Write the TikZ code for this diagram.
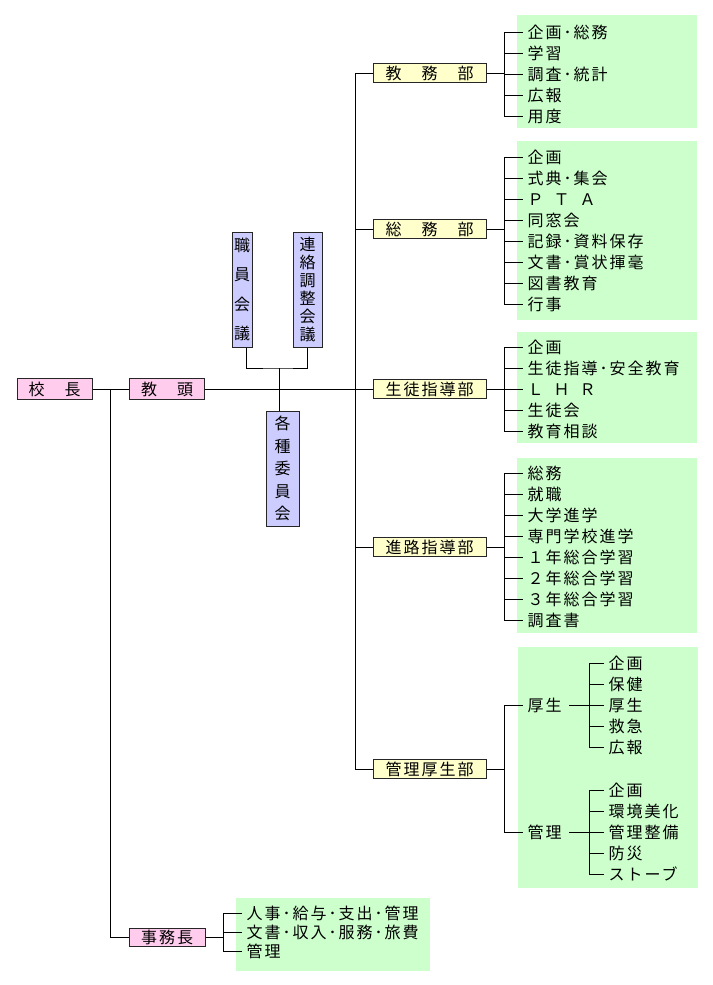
\documentclass[tikz,border=0pt]{standalone}
\usepackage{fontspec}
\newfontfamily\jp{Noto Sans CJK JP}
\newfontfamily\jpls[LetterSpace=12.5]{Noto Sans CJK JP}
\definecolor{pinkbox}{HTML}{FFCCEE}
\definecolor{yelbox}{HTML}{FFFFCC}
\definecolor{lavbox}{HTML}{CCCCFF}
\definecolor{grnbox}{HTML}{CCFFCC}
\begin{document}
\begin{tikzpicture}[x=1pt,y=-1pt,line width=1pt,
  lbl/.style={font=\jpls\fontsize{16pt}{18pt}\selectfont,inner sep=0pt,text height=14.08pt,text depth=1.92pt},
  box/.style={lbl,draw=black!85,minimum height=19pt,align=center},
  head/.style={box,fill=pinkbox,minimum width=75pt,minimum height=21pt},
  dept/.style={box,fill=yelbox,minimum width=113pt},
  item/.style={lbl,anchor=west,inner xsep=4pt},
  vbox/.style={draw=black!85,fill=lavbox,inner sep=0pt,align=center},
  area/.style={fill=grnbox}]
\fill[white] (0,0) rectangle (712,985);
\useasboundingbox (0,0) rectangle (712,985);
% green areas
\fill[area] (517,15) rectangle (697,128);
\fill[area] (517,141) rectangle (697,320);
\fill[area] (517,332) rectangle (697,443);
\fill[area] (517,458) rectangle (697,633);
\fill[area] (518,647) rectangle (698,888);
\fill[area] (236,898) rectangle (430,971);
% coordinates
\coordinate (sp) at (355,0);
\coordinate (bx) at (504,0);
\coordinate (bk) at (589,0);
\coordinate (bj) at (223,0);
\coordinate (kb) at (110,389);
\coordinate (cj) at (279,368);
% head nodes
\node[head] (kocho) at (54.5,389) {校　長};
\node[head] (kyoto) at (167,389) {教　頭};
\node[head,minimum width=76pt,minimum height=18pt] (jimu) at (167,937) {事務長};
% committees
\node[vbox,minimum width=20pt,minimum height=115pt,font=\jp\fontsize{16pt}{29.5pt}\selectfont] (shoku) at (242,289.5) {職\\員\\会\\議};
\node[vbox,minimum width=29pt,minimum height=115pt,font=\jp\fontsize{16pt}{18pt}\selectfont] (renr) at (307.5,289.5) {連\\絡\\調\\整\\会\\議};
\node[vbox,minimum width=33pt,minimum height=115pt,font=\jp\fontsize{16pt}{22.5pt}\selectfont] (kaku) at (282.5,468.5) {各\\種\\委\\員\\会};
% departments
\node[dept] (kyomu) at (429.5,73) {教　務　部};
\node[dept] (somu) at (429.5,229) {総　務　部};
\node[dept] (seito) at (429.5,389) {生徒指導部};
\node[dept] (shinro) at (429.5,547) {進路指導部};
\node[dept] (kanri) at (429.5,769) {管理厚生部};
% items
\foreach \t [count=\i] in {企画･総務,学習,調査･統計,広報,用度}
  \node[item] (a\i) at (523,{32+21*(\i-1)}) {\t};
\foreach \t [count=\i] in {企画,式典･集会,Ｐ\hspace{10pt}Ｔ\hspace{10pt}Ａ,同窓会,記録･資料保存,文書･賞状揮毫,図書教育,行事}
  \node[item] (b\i) at (523,{157+21*(\i-1)}) {\t};
\foreach \t [count=\i] in {企画,生徒指導･安全教育,Ｌ\hspace{10pt}Ｈ\hspace{10pt}Ｒ,生徒会,教育相談}
  \node[item] (c\i) at (523,{347+21*(\i-1)}) {\t};
\foreach \t [count=\i] in {総務,就職,大学進学,専門学校進学,１年総合学習,２年総合学習,３年総合学習,調査書}
  \node[item] (d\i) at (523,{473+21*(\i-1)}) {\t};
\node[item] (kos) at (523,705) {厚生};
\node[item] (kan) at (523,832) {管理};
\foreach \t [count=\i] in {企画,保健,厚生,救急,広報}
  \node[item] (k\i) at (604,{663+21*(\i-1)}) {\t};
\foreach \t [count=\i] in {企画,環境美化,管理整備,防災,ストーブ}
  \node[item] (m\i) at (604,{790+21*(\i-1)}) {\t};
\foreach \t [count=\i] in {人事･給与･支出･管理,文書･収入･服務･旅費,管理}
  \node[item] (j\i) at (242,{913+19*(\i-1)}) {\t};
% main connectors
\draw (kocho) -- (kyoto);
\draw (kb) |- (jimu.west);
\draw (kyoto.east) -- (sp |- kyoto.east);
\draw (kyomu.west) -| (sp |- kanri.west) -- (kanri.west);
\draw (somu.west) -- (sp |- somu.west);
\draw (seito.west) -- (sp |- seito.west);
\draw (shinro.west) -- (sp |- shinro.west);
% committee connectors
\draw ([xshift=4pt]shoku.south) |- (cj) -| (renr.south);
\draw (cj) -- (cj |- kaku.north);
% lists
\draw (kyomu.east) -- (bx |- kyomu.east);
\draw (a1.west) -| (bx |- a5.west) -- (a5.west);
\foreach \i in {2,3,4} \draw (bx |- a\i.west) -- (a\i.west);
\draw (somu.east) -- (bx |- somu.east);
\draw (b1.west) -| (bx |- b8.west) -- (b8.west);
\foreach \i in {2,...,7} \draw (bx |- b\i.west) -- (b\i.west);
\draw (seito.east) -- (bx |- seito.east);
\draw (c1.west) -| (bx |- c5.west) -- (c5.west);
\foreach \i in {2,3,4} \draw (bx |- c\i.west) -- (c\i.west);
\draw (shinro.east) -- (bx |- shinro.east);
\draw (d1.west) -| (bx |- d8.west) -- (d8.west);
\foreach \i in {2,...,7} \draw (bx |- d\i.west) -- (d\i.west);
\draw (kanri.east) -- (bx |- kanri.east);
\draw (kos.west) -| (bx |- kan.west) -- (kan.west);
\draw ([xshift=3pt]kos.east) -- (k3.west);
\draw (k1.west) -| (bk |- k5.west) -- (k5.west);
\foreach \i in {2,4} \draw (bk |- k\i.west) -- (k\i.west);
\draw ([xshift=3pt]kan.east) -- (m3.west);
\draw (m1.west) -| (bk |- m5.west) -- (m5.west);
\foreach \i in {2,4} \draw (bk |- m\i.west) -- (m\i.west);
\draw (jimu.east) -- (bj |- jimu.east);
\draw (j1.west) -| (bj |- j3.west) -- (j3.west);
\draw (bj |- j2.west) -- (j2.west);
\end{tikzpicture}
\end{document}
